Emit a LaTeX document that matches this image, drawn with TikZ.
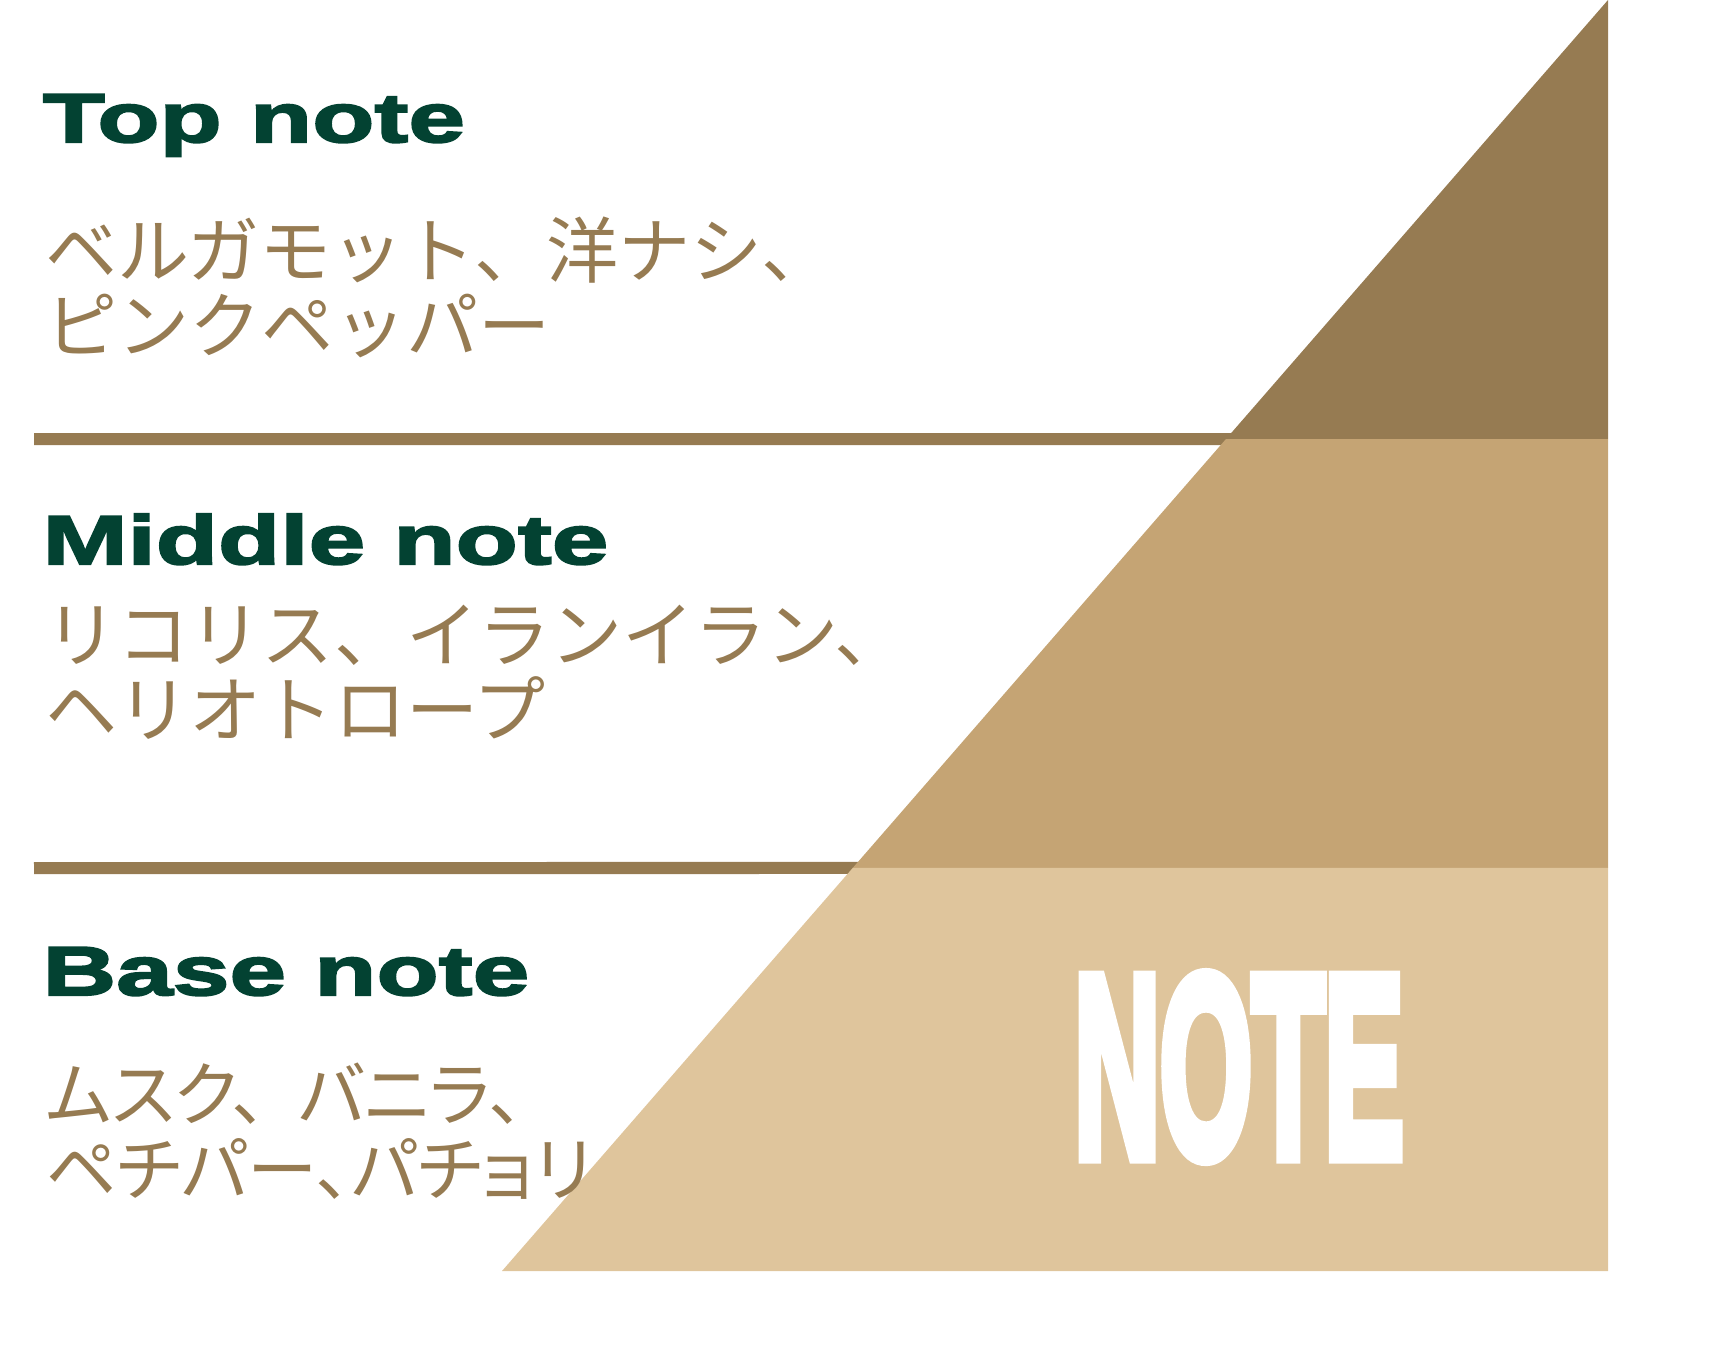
\documentclass[tikz,border=0pt]{standalone}
\usepackage{fontspec}
\usepackage{graphicx}
\usetikzlibrary{calc}
\newfontfamily\jpfont{Noto Sans CJK JP}
\newfontfamily\jppalt{Noto Sans CJK JP}[RawFeature=+palt]
\newfontfamily\headfont{Liberation Sans}[BoldFeatures={FakeStretch=1.47,FakeBold=3}]
\newfontfamily\notefont{Liberation Sans}[BoldFeatures={FakeBold=6}]
\definecolor{topbrown}{RGB}{150,123,82}
\definecolor{midbrown}{RGB}{197,164,116}
\definecolor{basebrown}{RGB}{223,197,156}
\definecolor{darkgreen}{RGB}{3,66,50}

\begin{document}
\begin{tikzpicture}[x=0.01cm,y=-0.01cm,
    heading/.style={anchor=base west,inner sep=0pt,text=darkgreen,font=\headfont\bfseries\fontsize{19.7}{20}\selectfont},
    jptext/.style={anchor=north west,inner sep=0pt,align=left,text=topbrown,font=\jpfont\fontsize{20.5}{21.5}\selectfont},
    sepline/.style={draw=topbrown,line width=0.12cm}]
    \useasboundingbox (0,0) rectangle (1732,1350);
    % pyramid corners
    \coordinate (apex) at (1608,0);
    \coordinate (bl) at (502,1271);
    \coordinate (br) at (1608,1271);
    \coordinate (t1) at ($(apex)!0.3454!(bl)$);
    \coordinate (t2) at ($(apex)!0.6829!(bl)$);
    % separator lines
    \coordinate (l1) at (34,439);
    \coordinate (l2) at (34,868);
    \draw[sepline] (l1) -- ($(t1)+(10,0)$);
    \draw[sepline] (l2) -- ($(t2)+(10,0)$);
    % pyramid bands
    \fill[topbrown] (apex) -- (t1) -- (t1 -| apex) -- cycle;
    \fill[midbrown] (t1) -- (t2) -- (t2 -| apex) -- (t1 -| apex) -- cycle;
    \fill[basebrown] (t2) -- (bl) -- (br) -- (t2 -| br) -- cycle;
    % headings
    \node[heading] (toph) at (42,142) {Top note};
    \node[heading] (midh) at (42,564) {Middle note};
    \node[heading] (baseh) at (42,995) {Base note};
    % ingredients
    \node[jptext] (topjp) at (45,216) {ベルガモット、洋ナシ、\\ピンクペッパー};
    \node[jptext] (midjp) at (45,604) {リコリス、イランイラン、\\ヘリオトロープ};
    \node[jptext,font=\jppalt\fontsize{20}{21.5}\selectfont] (basejp) at (45,1062) {ムスク、\hspace{0.45em}バニラ、\\ペチパー、パチョリ};
    \node[inner sep=0pt,text=white] (note) at (1239,1067) {\resizebox{3.29cm}{1.8cm}{\notefont\bfseries NOTE}};
\end{tikzpicture}
\end{document}
